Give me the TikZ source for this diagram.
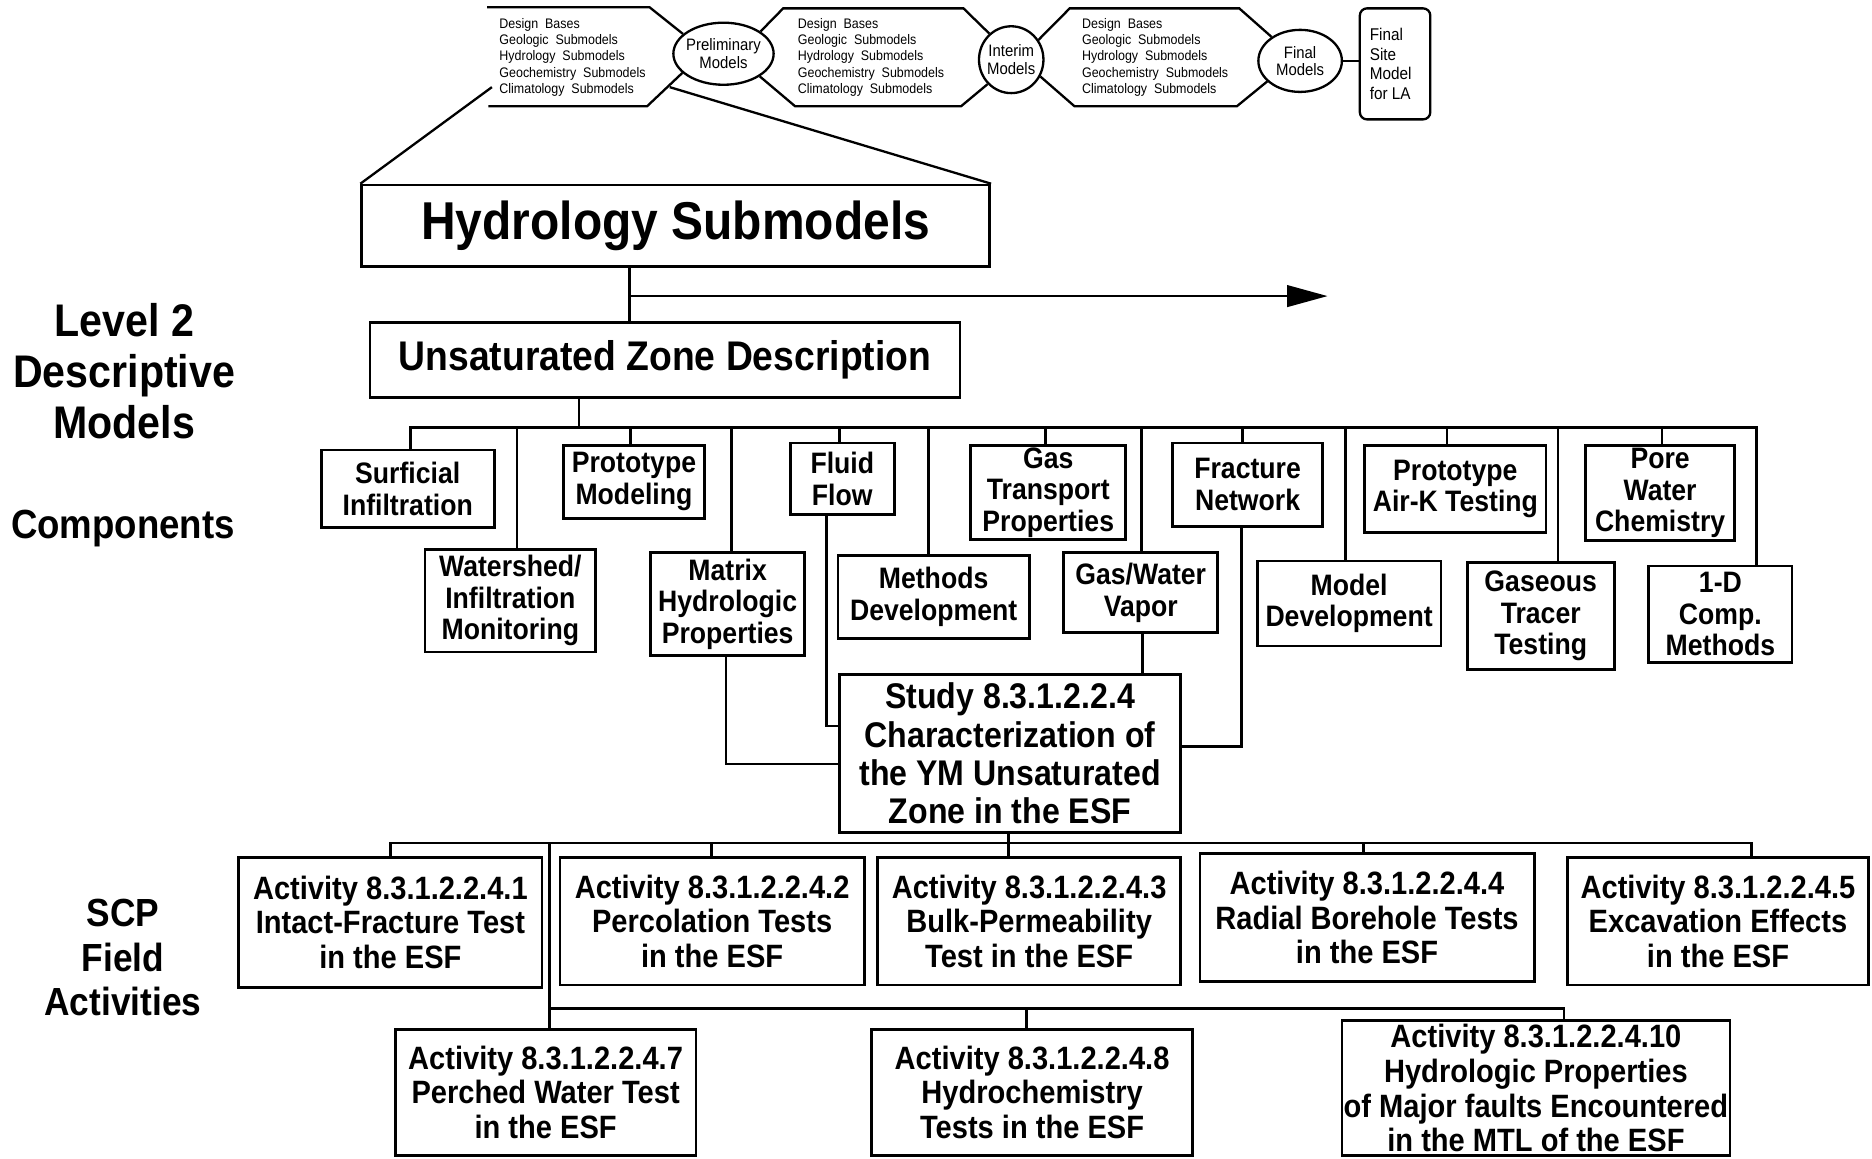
\documentclass[tikz,border=0pt]{standalone}
\usepackage{fontspec}
\setmainfont{Liberation Sans}[FakeStretch=0.9]
\usetikzlibrary{shapes.geometric,fit,arrows.meta}
\tikzset{
  boxst/.style={draw, rectangle, inner sep=0pt, line width=1.3pt},
  comptxt/.style={font={\fontsize{14.1}{15.1}\selectfont\bfseries}, align=center, inner sep=0pt},
  acttxt/.style={font={\fontsize{15.4}{16.5}\selectfont\bfseries}, align=center, inner sep=0pt},
  studytxt/.style={font={\fontsize{17}{18.2}\selectfont\bfseries}, align=center, inner sep=0pt},
  hydtxt/.style={font={\fontsize{25.4}{28}\selectfont\bfseries}, align=center, inner sep=0pt},
  uztxt/.style={font={\fontsize{19.75}{22}\selectfont\bfseries}, align=center, inner sep=0pt},
  hextxt/.style={font={\fontsize{6.6}{7.7}\selectfont}, align=left, anchor=west, inner sep=0pt},
  ovaltxt/.style={font={\fontsize{7.9}{8.4}\selectfont}, align=center, inner sep=0pt},
  oval/.style={draw, ellipse, inner sep=0pt, line width=1.1pt},
  topln/.style={line width=1.1pt},
  conn/.style={line width=1.3pt}
}
\newcommand{\mybox}[5][comptxt]{%
  \node[boxst, fit={(#3) (#4)}] (#2) {};
  \node[#1] (#2t) at (#2.center) {#5};
}
\newcommand{\mydrop}[3]{%
  \coordinate (#1) at (#2,358);
  \draw[conn] (#1) -- (#3.north -| #1);
}
\begin{document}
\begin{tikzpicture}[x=0.02cm, y=-0.02cm]
\fill[white] (0,0) rectangle (1568,970);
\useasboundingbox (0,0) rectangle (1568,970);

% ---------- top strip ----------
\node[oval, minimum width=1.68cm, minimum height=1.04cm] (prelim) at (606,45) {};
\node[ovaltxt] (prelimt) at (prelim.center) {Preliminary\\Models};
\node[oval, minimum width=1.08cm, minimum height=1.12cm] (interim) at (847,50) {};
\node[ovaltxt] (interimt) at (interim.center) {Interim\\Models};
\node[oval, minimum width=1.40cm, minimum height=1.04cm] (final) at (1089,51) {};
\node[ovaltxt] (finalt) at (final.center) {Final\\Models};
\node[draw, rounded corners=0.12cm, fit={(1139,7) (1198,100)}, inner sep=0pt, line width=1.1pt] (fsite) {};
\node[font={\fontsize{8.1}{9.3}\selectfont}, align=left, anchor=west, inner sep=0pt] (fsitet) at (1147,53.5) {Final\\Site\\Model\\for LA};

\draw[topln] (408,6) -- (544,6) -- (prelim.154);
\draw[topln] (409,89) -- (542,89) -- (prelim.205);
\draw[topln] (prelim.31) -- (656,7) -- (807,7) -- (interim.130);
\draw[topln] (prelim.-32) -- (666,89) -- (805,89) -- (interim.226);
\draw[topln] (interim.36) -- (896,7) -- (1038,7) -- (final.140);
\draw[topln] (interim.-30) -- (900,89) -- (1036,89) -- (final.212);
\draw[topln] (final.east) -- (final.east -| fsite.west);

\node[hextxt] (h1t) at (418,48) {Design\enspace Bases\\Geologic\enspace Submodels\\Hydrology\enspace Submodels\\Geochemistry\enspace Submodels\\Climatology\enspace Submodels};
\node[hextxt] (h2t) at (668,48) {Design\enspace Bases\\Geologic\enspace Submodels\\Hydrology\enspace Submodels\\Geochemistry\enspace Submodels\\Climatology\enspace Submodels};
\node[hextxt] (h3t) at (906,48) {Design\enspace Bases\\Geologic\enspace Submodels\\Hydrology\enspace Submodels\\Geochemistry\enspace Submodels\\Climatology\enspace Submodels};

% ---------- left labels ----------
\node[font={\fontsize{21.8}{24.2}\selectfont\bfseries}, align=center, inner sep=0pt] (lvl) at (104,311) {Level 2\\Descriptive\\Models};
\node[font={\fontsize{19.4}{21}\selectfont\bfseries}, inner sep=0pt] (compl) at (103,443) {Components};
\node[font={\fontsize{18.7}{21}\selectfont\bfseries}, align=center, inner sep=0pt] (scp) at (103,802) {SCP\\Field\\Activities};

% ---------- Hydrology / UZ ----------
\mybox[hydtxt]{hyd}{303,155}{829,223}{Hydrology Submodels}
\mybox[uztxt]{uz}{310,270}{804,333}{Unsaturated Zone Description}

\coordinate (zl) at (412,73);
\coordinate (zr) at (561,73);
\draw[topln] (zl) -- (hyd.north west);
\draw[topln] (zr) -- (hyd.north east);

\coordinate (j1) at (527,248);
\coordinate (arr) at (1112,248);
\draw[conn] (hyd.south -| j1) -- (uz.north -| j1);
\draw[conn, -{Triangle[length=0.68cm,width=0.36cm]}] (j1) -- (arr);

% ---------- components ----------
\mybox{surf}{269,377}{414,442}{Surficial\\Infiltration}
\mybox{wshed}{356,460}{499,546}{Watershed/\\Infiltration\\Monitoring}
\mybox{protm}{472,373}{590,434}{Prototype\\Modeling}
\mybox{mat}{545,463}{674,549}{Matrix\\Hydrologic\\Properties}
\mybox{fluid}{662,371}{749,431}{Fluid\\Flow}
\mybox{methd}{702,465}{862,535}{Methods\\Development}
\mybox{gastr}{813,373}{943,452}{Gas\\Transport\\Properties}
\mybox{gasw}{891,463}{1020,530}{Gas/Water\\Vapor}
\mybox{frac}{982,371}{1108,441}{Fracture\\Network}
\mybox{modd}{1053,470}{1207,541}{Model\\Development}
\mybox{airk}{1143,373}{1295,446}{Prototype\\Air-K Testing}
\mybox{gtrac}{1229,471}{1352,561}{Gaseous\\Tracer\\Testing}
\mybox{pore}{1328,373}{1453,453}{Pore\\Water\\Chemistry}
\mybox{oned}{1381,474}{1501,555}{1-D\\Comp.\\Methods}

\coordinate (buz) at (485,358);
\draw[conn] (uz.south -| buz) -- (buz);
\coordinate (dsurf) at (344,358);
\coordinate (doned) at (1471,358);
\draw[conn] (surf.north -| dsurf) -- (dsurf) -- (doned) -- (oned.north -| doned);
\mydrop{dwshed}{433}{wshed}
\mydrop{dprotm}{528}{protm}
\mydrop{dmat}{613}{mat}
\mydrop{dfluid}{703}{fluid}
\mydrop{dmethd}{778}{methd}
\mydrop{dgastr}{876}{gastr}
\mydrop{dgasw}{956}{gasw}
\mydrop{dfrac}{1041}{frac}
\mydrop{dmodd}{1127}{modd}
\mydrop{dairk}{1212}{airk}
\mydrop{dgtrac}{1305}{gtrac}
\mydrop{dpore}{1392}{pore}

% ---------- study ----------
\mybox[studytxt]{study}{703,565}{989,697}{Study 8.3.1.2.2.4\\Characterization of\\the YM Unsaturated\\Zone in the ESF}

\coordinate (cm) at (608,640);
\coordinate (cf) at (692,608);
\coordinate (cfr) at (1040,625);
\coordinate (cgw) at (957,548);
\draw[conn] (mat.south -| cm) -- (cm) -- (study.west |- cm);
\draw[conn] (fluid.south -| cf) -- (cf) -- (study.west |- cf);
\draw[conn] (frac.south -| cfr) -- (cfr) -- (study.east |- cfr);
\draw[conn] (gasw.south -| cgw) -- (study.north -| cgw);

% ---------- activities ----------
\mybox[acttxt]{a1}{200,718}{454,827}{Activity 8.3.1.2.2.4.1\\Intact-Fracture Test\\in the ESF}
\mybox[acttxt]{a2}{469,718}{724,825}{Activity 8.3.1.2.2.4.2\\Percolation Tests\\in the ESF}
\mybox[acttxt]{a3}{735,718}{989,825}{Activity 8.3.1.2.2.4.3\\Bulk-Permeability\\Test in the ESF}
\mybox[acttxt]{a4}{1005,715}{1285,822}{Activity 8.3.1.2.2.4.4\\Radial Borehole Tests\\in the ESF}
\mybox[acttxt]{a5}{1313,718}{1565,825}{Activity 8.3.1.2.2.4.5\\Excavation Effects\\in the ESF}
\mybox[acttxt]{a7}{331,862}{583,968}{Activity 8.3.1.2.2.4.7\\Perched Water Test\\in the ESF}
\mybox[acttxt]{a8}{730,862}{999,968}{Activity 8.3.1.2.2.4.8\\Hydrochemistry\\Tests in the ESF}
\mybox[acttxt]{a10}{1124,855}{1449,968}{Activity 8.3.1.2.2.4.10\\Hydrologic Properties\\of Major faults Encountered\\in the MTL of the ESF}

\coordinate (s1) at (845,706);
\coordinate (ba1) at (327,706);
\coordinate (ba2) at (596,706);
\coordinate (ba4) at (1142,706);
\coordinate (ba5) at (1467,706);
\coordinate (ba7) at (460,706);
\coordinate (bb7) at (460,845);
\coordinate (bb8) at (860,845);
\coordinate (bb10) at (1310,845);
\draw[conn] (study.south -| s1) -- (a3.north -| s1);
\draw[conn] (a1.north -| ba1) -- (ba1) -- (ba5) -- (a5.north -| ba5);
\draw[conn] (ba2) -- (a2.north -| ba2);
\draw[conn] (ba4) -- (a4.north -| ba4);
\draw[conn] (ba7) -- (a7.north -| ba7);
\draw[conn] (bb7) -- (bb10) -- (a10.north -| bb10);
\draw[conn] (bb8) -- (a8.north -| bb8);
\end{tikzpicture}
\end{document}
